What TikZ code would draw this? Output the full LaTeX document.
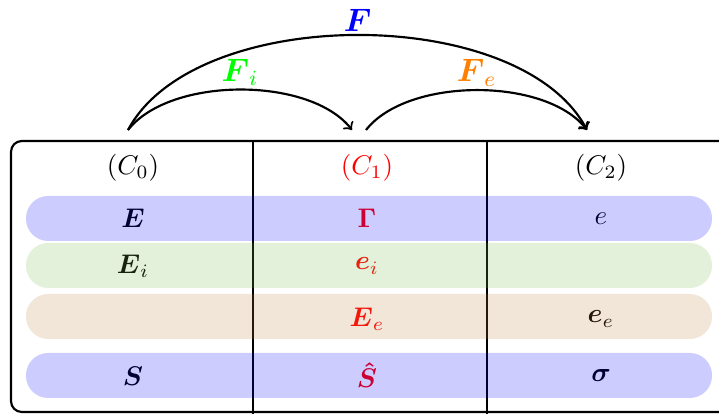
\documentclass[tikz,border=0pt]{standalone}
\usepackage{amsmath}
\definecolor{bandblue}{rgb}{0,0,1}
\definecolor{bandgreen}{rgb}{0.45,0.70,0.28}
\definecolor{bandbrown}{rgb}{0.75,0.5,0.25}
\definecolor{flabel}{rgb}{0,1,0}
\definecolor{felabel}{rgb}{1,0.5,0}
\begin{document}
\begin{tikzpicture}[x=0.01302cm,y=0.01302cm,
  frame/.style={thick, rounded corners=4pt},
  colline/.style={thick},
  band/.style={fill=#1, fill opacity=0.2, rounded corners=8.2pt, draw=none},
  cell/.style={inner sep=0pt, anchor=center},
  arc/.style={thick, ->},
  lbl/.style={inner sep=1pt, font=\large}]
\useasboundingbox (0,0) rectangle (719,414);
\clip (0,0) rectangle (719,414);
% frame and column separators
\draw[frame] (11,2) rectangle (740,273);
\draw[colline] (253,273) -- (253,-10);
\draw[colline] (487,273) -- (487,-10);
% headers
\node[cell] (h0) at (133,246) {$(C_0)$};
\node[cell,text=red] (h1) at (367,246) {$(C_1)$};
\node[cell] (h2) at (601,246) {$(C_2)$};
% row texts
\node[cell] (r1a) at (133,195.5) {$\boldsymbol{E}$};
\node[cell,text=red] (r1b) at (367,195.5) {$\boldsymbol{\Gamma}$};
\node[cell] (r1c) at (601,195.5) {$e$};
\node[cell] (r2a) at (133,148) {$\boldsymbol{E}_i$};
\node[cell,text=red] (r2b) at (367,148) {$\boldsymbol{e}_i$};
\node[cell,text=red] (r3b) at (367,95) {$\boldsymbol{E}_e$};
\node[cell] (r3c) at (601,95) {$\boldsymbol{e}_e$};
\node[cell] (r4a) at (133,38) {$\boldsymbol{S}$};
\node[cell,text=red] (r4b) at (367,39) {$\boldsymbol{\hat{S}}$};
\node[cell] (r4c) at (601,38) {$\boldsymbol{\sigma}$};
% bands over text
\fill[band=bandblue] (26,173) rectangle (712,218);
\fill[band=bandgreen] (26,126) rectangle (712,171);
\fill[band=bandbrown] (26,75) rectangle (712,120);
\fill[band=bandblue] (26,16) rectangle (712,61);
% arrows
\coordinate (s0) at (128,284);
\coordinate (t1) at (352,284);
\coordinate (s1) at (366,284);
\coordinate (t2) at (587,284);
\draw[arc] (s0) to[out=52,in=128,looseness=0.78] node[lbl,above,text=flabel] (fi) {$\boldsymbol{F}_i$} (t1);
\draw[arc] (s1) to[out=52,in=128,looseness=0.78] node[lbl,above,text=felabel] (fe) {$\boldsymbol{F}_e$} (t2);
\draw[arc] (s0) to[out=62,in=118,looseness=0.8] node[lbl,above,text=blue] (f) {$\boldsymbol{F}$} (t2);
\end{tikzpicture}
\end{document}
